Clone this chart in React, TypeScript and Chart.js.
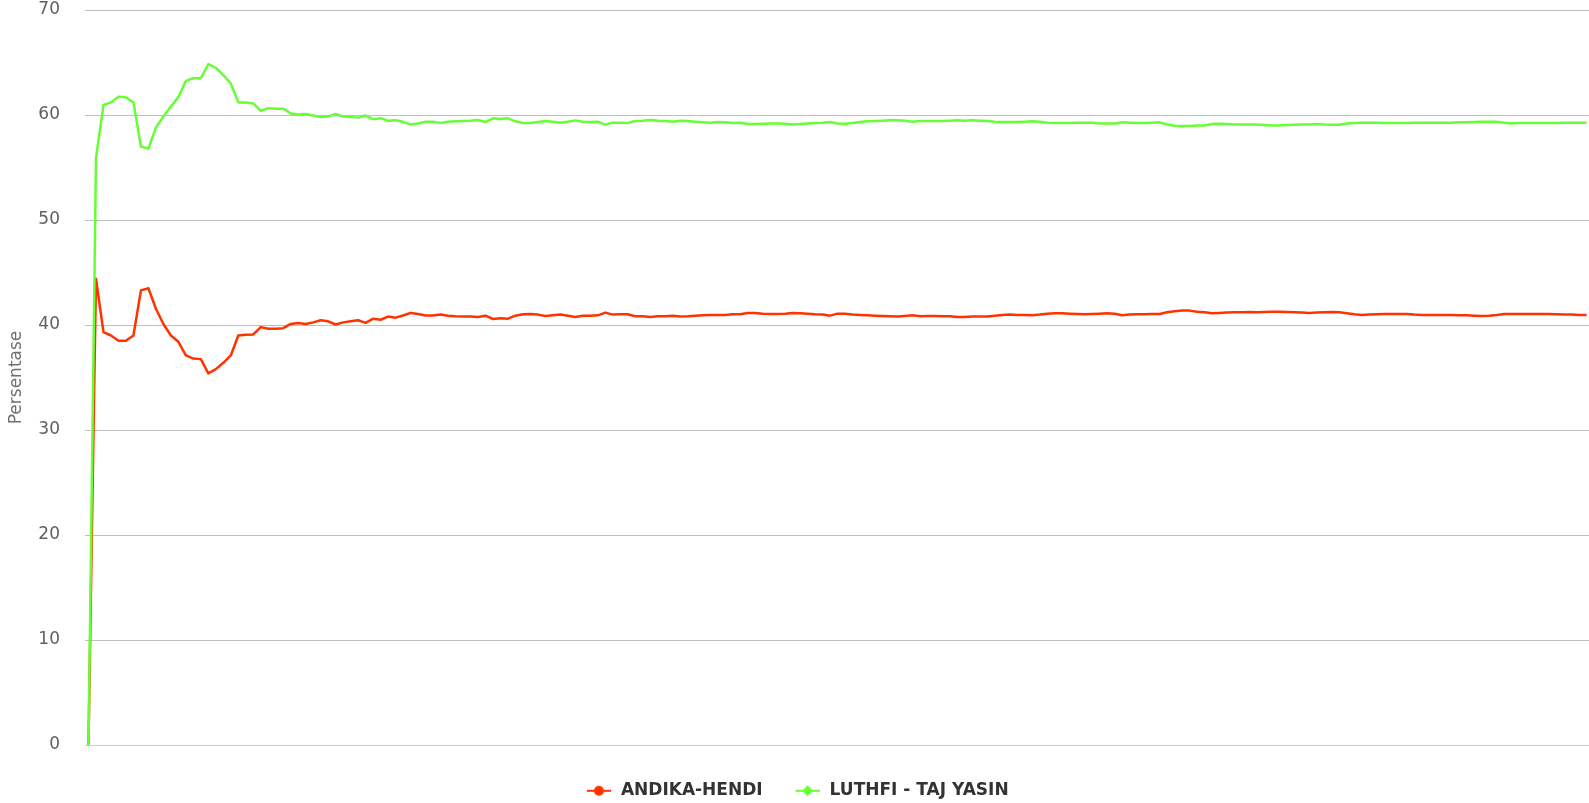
import React, { useEffect, useRef } from 'react';
import { Chart, registerables } from 'chart.js';

Chart.register(...registerables);

const seriesNames = ['ANDIKA-HENDI', 'LUTHFI - TAJ YASIN'];
const seriesColors = ['#ff3300', '#66ff33'];
const yAxisTitle = 'Persentase';
const yTicks = [0, 10, 20, 30, 40, 50, 60, 70];

const andikaHendi = [
  0, 44.4, 39.33, 39.0, 38.5, 38.5, 39.0, 43.3, 43.5, 41.55,
  40.1, 39.0, 38.4, 37.1, 36.8, 36.75, 35.4, 35.8, 36.4, 37.1,
  39.0, 39.07, 39.1, 39.8, 39.65, 39.65, 39.7, 40.1, 40.2, 40.1,
  40.25, 40.45, 40.35, 40.05, 40.25, 40.35, 40.45, 40.2, 40.6, 40.5,
  40.8, 40.7, 40.9, 41.15, 41.05, 40.9, 40.9, 41.0, 40.89, 40.83,
  40.8, 40.8, 40.76, 40.89, 40.57, 40.64, 40.6, 40.89, 41.02, 41.05,
  40.99, 40.86, 40.92, 40.99, 40.89, 40.76, 40.89, 40.89, 40.92, 41.18,
  40.99, 41.02, 41.02, 40.83, 40.83, 40.76, 40.83, 40.83, 40.89, 40.8,
  40.83, 40.89, 40.92, 40.96, 40.96, 40.96, 41.02, 41.02, 41.15, 41.15,
  41.08, 41.05, 41.05, 41.08, 41.15, 41.11, 41.08, 41.02, 40.99, 40.89,
  41.08, 41.08, 40.99, 40.96, 40.92, 40.89, 40.86, 40.83, 40.8, 40.86,
  40.92, 40.83, 40.86, 40.86, 40.83, 40.83, 40.76, 40.76, 40.8, 40.8,
  40.8, 40.89, 40.96, 40.99, 40.96, 40.96, 40.92, 40.99, 41.08, 41.11,
  41.11, 41.08, 41.05, 41.02, 41.05, 41.08, 41.11, 41.08, 40.92, 40.99,
  41.02, 41.02, 41.05, 41.05, 41.21, 41.3, 41.37, 41.37, 41.27, 41.21,
  41.11, 41.15, 41.18, 41.21, 41.21, 41.24, 41.21, 41.24, 41.27, 41.27,
  41.24, 41.21, 41.18, 41.15, 41.18, 41.21, 41.24, 41.21, 41.11, 41.02,
  40.96, 40.99, 41.02, 41.05, 41.05, 41.05, 41.05, 40.99, 40.96, 40.96,
  40.96, 40.96, 40.96, 40.92, 40.92, 40.89, 40.86, 40.89, 40.96, 41.05,
  41.05, 41.05, 41.05, 41.05, 41.05, 41.05, 41.02, 40.99, 40.99, 40.96,
  40.96,
];

const luthfiTajYasin = [
  0, 55.9, 60.95, 61.2, 61.75, 61.7, 61.2, 57.0, 56.8, 58.8,
  59.85, 60.8, 61.7, 63.25, 63.5, 63.5, 64.85, 64.5, 63.8, 63.0,
  61.2, 61.2, 61.1, 60.4, 60.65, 60.6, 60.6, 60.15, 60.05, 60.1,
  59.95, 59.8, 59.85, 60.1, 59.85, 59.8, 59.75, 59.95, 59.6, 59.7,
  59.45, 59.5, 59.35, 59.1, 59.2, 59.35, 59.35, 59.25, 59.36, 59.4,
  59.43, 59.46, 59.52, 59.33, 59.68, 59.62, 59.68, 59.4, 59.24, 59.24,
  59.33, 59.43, 59.36, 59.27, 59.36, 59.49, 59.36, 59.33, 59.36, 59.08,
  59.27, 59.27, 59.24, 59.43, 59.46, 59.52, 59.46, 59.43, 59.36, 59.46,
  59.43, 59.36, 59.3, 59.27, 59.33, 59.3, 59.24, 59.27, 59.17, 59.14,
  59.17, 59.2, 59.2, 59.17, 59.1, 59.14, 59.2, 59.24, 59.27, 59.33,
  59.2, 59.17, 59.24, 59.33, 59.4, 59.43, 59.46, 59.5, 59.5, 59.46,
  59.36, 59.43, 59.43, 59.43, 59.43, 59.46, 59.5, 59.46, 59.5, 59.46,
  59.43, 59.36, 59.33, 59.33, 59.33, 59.36, 59.4, 59.36, 59.27, 59.24,
  59.24, 59.24, 59.27, 59.27, 59.27, 59.2, 59.2, 59.2, 59.3, 59.27,
  59.24, 59.24, 59.27, 59.3, 59.1, 58.98, 58.95, 58.95, 59.0, 59.0,
  59.14, 59.17, 59.14, 59.1, 59.1, 59.1, 59.1, 59.05, 59.0, 59.0,
  59.05, 59.08, 59.1, 59.1, 59.14, 59.1, 59.08, 59.08, 59.2, 59.24,
  59.27, 59.27, 59.27, 59.24, 59.24, 59.24, 59.24, 59.27, 59.27, 59.27,
  59.27, 59.27, 59.27, 59.3, 59.3, 59.33, 59.36, 59.36, 59.36, 59.27,
  59.2, 59.24, 59.24, 59.24, 59.24, 59.24, 59.24, 59.27, 59.27, 59.27,
  59.27,
];

const seriesValues = [andikaHendi, luthfiTajYasin];
const markerShapes: Array<'circle' | 'diamond'> = ['circle', 'diamond'];

function makeLegendSymbol(color: string, marker: 'circle' | 'diamond') {
  const c = document.createElement('canvas');
  c.width = 29;
  c.height = 12;
  const ctx = c.getContext('2d') as CanvasRenderingContext2D;
  ctx.strokeStyle = color;
  ctx.lineWidth = 2;
  ctx.beginPath();
  ctx.moveTo(5, 6);
  ctx.lineTo(29, 6);
  ctx.stroke();
  ctx.fillStyle = color;
  ctx.beginPath();
  if (marker === 'circle') {
    ctx.arc(17, 6, 5, 0, Math.PI * 2);
  } else {
    ctx.moveTo(17, 0.5);
    ctx.lineTo(22.5, 6);
    ctx.lineTo(17, 11.5);
    ctx.lineTo(11.5, 6);
    ctx.closePath();
  }
  ctx.fill();
  return c;
}

export default function App() {
  const canvasRef = useRef<HTMLCanvasElement | null>(null);

  useEffect(() => {
    if (!canvasRef.current) return;
    Chart.defaults.font.family = "'DejaVu Sans', sans-serif";
    const symbols = seriesColors.map((c, i) => makeLegendSymbol(c, markerShapes[i]));

    const chart = new Chart(canvasRef.current, {
      type: 'line',
      data: {
        datasets: seriesNames.map((name, i) => ({
          label: name,
          data: seriesValues[i].map((v, k) => ({ x: k, y: v })),
          borderColor: seriesColors[i],
          backgroundColor: seriesColors[i],
          borderWidth: 2.5,
          pointRadius: 0,
          pointHoverRadius: 0,
          tension: 0,
          fill: false,
          borderJoinStyle: 'round' as const,
          order: i === 0 ? 1 : 0,
        })),
      },
      options: {
        responsive: false,
        animation: false,
        events: [],
        layout: { padding: { top: 10, left: 0, right: 0, bottom: -6.3 } },
        scales: {
          x: {
            type: 'linear',
            display: false,
            min: -0.467,
            max: 200.33,
          },
          y: {
            min: 0,
            max: 70,
            afterBuildTicks: (scale: any) => {
              scale.ticks = yTicks.map((v) => ({ value: v }));
            },
            afterFit: (scale: any) => {
              scale.width = 85;
              scale.paddingTop = 10;
              scale.paddingBottom = 10;
            },
            ticks: {
              padding: 25,
              color: '#606060',
              font: { size: 17 },
            },
            grid: {
              drawTicks: false,
              lineWidth: 1,
              color: (ctx: any) => (ctx.tick && ctx.tick.value === 0 ? '#c0d0e0' : '#c0c0c0'),
            },
            border: { display: false },
            title: {
              display: true,
              text: yAxisTitle,
              color: '#707070',
              font: { size: 17 },
              padding: { top: 6, bottom: 0 },
            },
          },
        },
        plugins: {
          tooltip: { enabled: false },
          legend: {
            position: 'bottom',
            align: 'center',
            title: {
              display: true,
              text: ' ',
              font: { size: 9 },
              padding: 0,
            },
            labels: {
              usePointStyle: true,
              pointStyleWidth: 32,
              padding: 26.5,
              color: '#333333',
              font: { size: 17, weight: 'bold' },
              generateLabels: (ch: any) =>
                ch.data.datasets.map((ds: any, i: number) => ({
                  text: ds.label,
                  fillStyle: ds.borderColor,
                  strokeStyle: ds.borderColor,
                  lineWidth: 0,
                  pointStyle: symbols[i],
                  hidden: false,
                  datasetIndex: i,
                  fontColor: '#333333',
                })),
            },
          },
        },
      },
    } as any);

    return () => chart.destroy();
  }, []);

  return (
    <div style={{ position: 'fixed', left: 0, top: 0, width: 1589, height: 803, background: '#fff' }}>
      <canvas ref={canvasRef} width={1589} height={803} style={{ display: 'block' }} />
    </div>
  );
}
